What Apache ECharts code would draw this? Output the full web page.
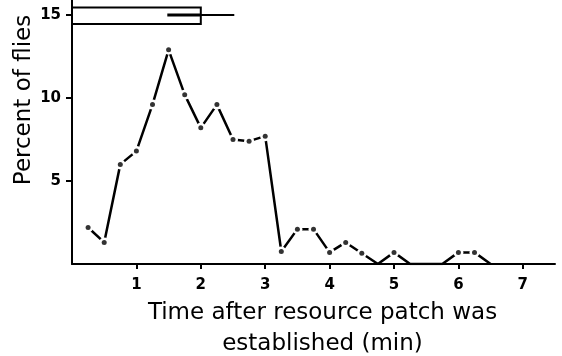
<!DOCTYPE html>
<html>
<head>
<meta charset="utf-8">
<script src="https://cdn.jsdelivr.net/npm/echarts@6/dist/echarts.min.js"></script>
<style>
  html, body { margin: 0; padding: 0; background: #fff; }
  #chartBox { width: 562px; height: 356px; }
</style>
</head>
<body>
<div id="chartBox"></div>
<script>
// time after patch (min) and percent of flies
const times = [0.25, 0.5, 0.75, 1.0, 1.25, 1.5, 1.75, 2.0, 2.25, 2.5, 2.75, 3.0, 3.25,
               3.5, 3.75, 4.0, 4.25, 4.5, 4.75, 5.0, 5.25, 5.5, 5.75, 6.0, 6.25, 6.5];
const percents = [2.2, 1.3, 6.0, 6.8, 9.6, 12.9, 10.2, 8.2, 9.6, 7.5, 7.4, 7.7, 0.75,
                  2.1, 2.1, 0.7, 1.3, 0.65, 0, 0.7, 0, 0, 0, 0.7, 0.7, 0];

// box at the top: start, end, whisker end, inner mark start, low, high, mid
const boxStats = [0, 2.0, 2.52, 1.48, 14.45, 15.45, 15];

const xTicks = [1, 2, 3, 4, 5, 6, 7];
const yTicks = [5, 10, 15];

const FONT = '"DejaVu Sans", Verdana, sans-serif';

const linePts = times.map((t, i) => {
    let p = { value: [t, percents[i]] };
    if (percents[i] === 0) p.symbol = 'none';
    return p;
});
const dotPts = times.map((t, i) => [t, percents[i]]).filter(d => d[1] > 0);

let chart = echarts.init(document.getElementById('chartBox'));

let option = {
    animation: false,
    grid: { left: 72, right: 7, top: 0, bottom: 92, outerBoundsMode: 'none' },
    xAxis: {
        type: 'value',
        min: 0,
        max: 7.5,
        splitLine: { show: false },
        axisLine: { lineStyle: { color: '#000', width: 2 } },
        axisTick: { customValues: xTicks, length: 5, lineStyle: { color: '#000', width: 2 } },
        axisLabel: {
            customValues: xTicks, margin: 14, color: '#000',
            fontFamily: FONT, fontWeight: 'bold', fontSize: 15
        },
        name: 'Time after resource patch was\nestablished (min)',
        nameLocation: 'middle',
        nameGap: 33,
        nameTextStyle: {
            color: '#000', fontFamily: FONT,
            fontSize: 23, lineHeight: 31, padding: [0, 0, 0, 18], verticalAlign: 'top'
        }
    },
    yAxis: {
        type: 'value',
        min: 0,
        max: 15.9,
        splitLine: { show: false },
        axisLine: { show: true, lineStyle: { color: '#000', width: 2 } },
        axisTick: { show: true, customValues: yTicks, length: 6, lineStyle: { color: '#000', width: 2 } },
        axisLabel: {
            customValues: yTicks, margin: 11, color: '#000',
            fontFamily: FONT, fontWeight: 'bold', fontSize: 15
        }
    },
    graphic: [{
        type: 'text',
        x: 24,
        y: 100,
        rotation: Math.PI / 2,
        style: {
            text: 'Percent of flies',
            fill: '#000',
            font: '23px "DejaVu Sans", Verdana, sans-serif',
            textAlign: 'center',
            textVerticalAlign: 'middle'
        }
    }],
    series: [
        {
            type: 'line',
            data: linePts,
            showAllSymbol: true,
            symbol: 'circle',
            symbolSize: 10,
            itemStyle: { color: '#fff', borderWidth: 0 },
            lineStyle: { color: '#000', width: 2.5 },
            z: 3
        },
        {
            type: 'scatter',
            data: dotPts,
            symbolSize: 5,
            itemStyle: { color: '#000' },
            z: 4
        },
        {
            type: 'custom',
            data: [boxStats],
            z: 5,
            renderItem: function (params, api) {
                let p0 = api.coord([api.value(0), api.value(5)]);
                let p1 = api.coord([api.value(1), api.value(4)]);
                let w = api.coord([api.value(2), api.value(6)]);
                let m = api.coord([api.value(3), api.value(6)]);
                return {
                    type: 'group',
                    children: [
                        {
                            type: 'rect',
                            shape: { x: p0[0], y: p0[1], width: p1[0] - p0[0], height: p1[1] - p0[1] },
                            style: { fill: '#fff', stroke: '#000', lineWidth: 2 }
                        },
                        {
                            type: 'line',
                            shape: { x1: p1[0], y1: w[1], x2: w[0], y2: w[1] },
                            style: { stroke: '#000', lineWidth: 2 }
                        },
                        {
                            type: 'line',
                            shape: { x1: m[0], y1: m[1], x2: p1[0], y2: m[1] },
                            style: { stroke: '#000', lineWidth: 3 }
                        }
                    ]
                };
            }
        }
    ]
};

chart.setOption(option);
</script>
</body>
</html>
